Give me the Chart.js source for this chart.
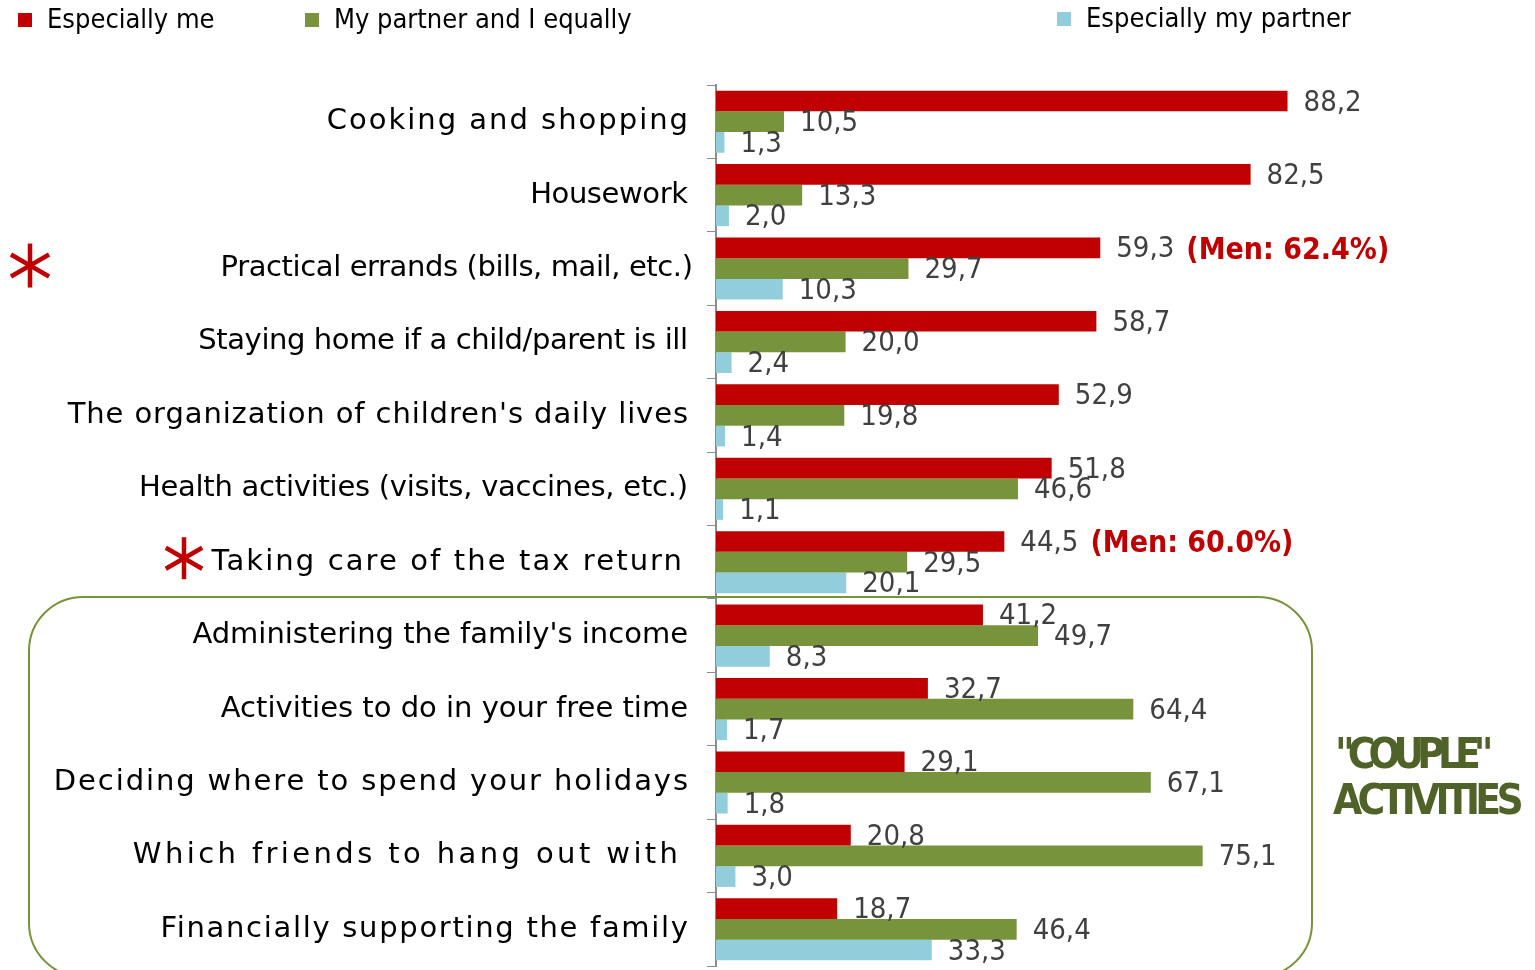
<!DOCTYPE html>
<html>
<head>
    <title>Who does what in the couple</title>
    <meta charset="UTF-8">
    <script src="https://cdn.jsdelivr.net/npm/chart.js@4"></script>
    <style>
        body { margin: 0; background: #ffffff; }
        canvas { display: block; }
    </style>
</head>
<body>
    <canvas id="chart" width="1535" height="970"></canvas>
<script>
    // categories and series
    var categories = [
        'Cooking and shopping',
        'Housework',
        'Practical errands (bills, mail, etc.)',
        'Staying home if a child/parent is ill',
        "The organization of children's daily lives",
        'Health activities (visits, vaccines, etc.)',
        'Taking care of the tax return',
        "Administering the family's income",
        'Activities to do in your free time',
        'Deciding where to spend your holidays',
        'Which friends to hang out with',
        'Financially supporting the family'
    ];
    var especiallyMe = [88.2, 82.5, 59.3, 58.7, 52.9, 51.8, 44.5, 41.2, 32.7, 29.1, 20.8, 18.7];
    var bothEqually = [10.5, 13.3, 29.7, 20.0, 19.8, 46.6, 29.5, 49.7, 64.4, 67.1, 75.1, 46.4];
    var especiallyPartner = [1.3, 2.0, 10.3, 2.4, 1.4, 1.1, 20.1, 8.3, 1.7, 1.8, 3.0, 33.3];
    var seriesNames = ['Especially me', 'My partner and I equally', 'Especially my partner'];

    // notes shown after the red value
    var menNoteIndex = [2, 6];
    var menNoteText = ['(Men: 62.4%)', '(Men: 60.0%)'];
    var groupTitle = ['"COUPLE"', 'ACTIVITIES'];
    var coupleStart = 7; // first category inside the box

    var RED = '#C00000', GREEN = '#77933C', BLUE = '#92CDDC';
    var FONT = '"DejaVu Sans Condensed", "DejaVu Sans", sans-serif';
    var LABEL_FONT = '"DejaVu Sans", sans-serif';
    // the original slide mixes spaced and plain label text
    var labelSpacing = [2, -0.4, -0.4, -0.4, 0.9, -0.25, 2.1, 0, 0, 1.9, 3.4, 1.7];
    var labelShift = [0, 0, 5, 0, 0, 0, -6, 0, 0, 0, -10, 0];

    function fmt(v) { return v.toFixed(1).replace('.', ','); }

    function star(ctx, cx, cy, r) {
        ctx.save();
        ctx.strokeStyle = RED;
        ctx.lineWidth = 4.5;
        for (var k = 0; k < 3; k++) {
            var a = Math.PI / 2 + k * Math.PI / 3;
            ctx.beginPath();
            ctx.moveTo(cx - r * Math.cos(a), cy - r * Math.sin(a));
            ctx.lineTo(cx + r * Math.cos(a), cy + r * Math.sin(a));
            ctx.stroke();
        }
        ctx.restore();
    }

    var extras = {
        id: 'extras',
        afterDraw: function (chart) {
            var ctx = chart.ctx;
            var yScale = chart.scales.y;

            // category labels
            ctx.save();
            ctx.font = '29px ' + LABEL_FONT;
            ctx.textAlign = 'right';
            ctx.textBaseline = 'middle';
            ctx.fillStyle = '#000000';
            chart.data.labels.forEach(function (lab, i) {
                ctx.letterSpacing = labelSpacing[i] + 'px';
                ctx.fillText(lab, yScale.right - 28 + labelShift[i] + labelSpacing[i], yScale.getPixelForValue(i));
            });
            ctx.restore();

            // legend
            var legendX = [18, 305, 1057];
            var legendY = [21, 21, 20];
            ctx.save();
            ctx.font = '27px ' + FONT;
            ctx.textBaseline = 'middle';
            chart.data.datasets.forEach(function (ds, i) {
                ctx.fillStyle = ds.backgroundColor;
                ctx.fillRect(legendX[i], legendY[i] - 8, 14, 14);
                ctx.fillStyle = '#000000';
                ctx.fillText(ds.label, legendX[i] + 29, legendY[i]);
            });
            ctx.restore();

            // value labels
            ctx.save();
            ctx.font = '29px ' + FONT;
            ctx.textBaseline = 'middle';
            ctx.fillStyle = '#404040';
            chart.data.datasets.forEach(function (ds, i) {
                var meta = chart.getDatasetMeta(i);
                meta.data.forEach(function (bar, j) {
                    ctx.fillText(fmt(ds.data[j]), bar.x + 16, bar.y + 2);
                });
            });

            // men notes
            var red = chart.getDatasetMeta(0);
            menNoteIndex.forEach(function (idx, n) {
                var bar = red.data[idx];
                ctx.font = '29px ' + FONT;
                var w = ctx.measureText(fmt(especiallyMe[idx])).width;
                ctx.font = 'bold 30px ' + FONT;
                ctx.fillStyle = RED;
                ctx.fillText(menNoteText[n], bar.x + 16 + w + 12, bar.y + 3);
                ctx.fillStyle = '#404040';
            });
            ctx.restore();

            // stars
            star(ctx, 30, yScale.getPixelForValue(2) - 3, 22);
            star(ctx, 184, yScale.getPixelForValue(6) - 4, 21);

            // couple activities box
            var top = (yScale.getPixelForValue(coupleStart - 1) + yScale.getPixelForValue(coupleStart)) / 2 - 2;
            ctx.save();
            ctx.strokeStyle = GREEN;
            ctx.lineWidth = 2;
            ctx.beginPath();
            ctx.roundRect(29, top, 1283, 380, 54);
            ctx.stroke();

            ctx.fillStyle = '#4F6228';
            ctx.font = 'bold 42px ' + FONT;
            ctx.textBaseline = 'middle';
            ctx.letterSpacing = '-7px';
            ctx.fillText(groupTitle[0], 1335, 757);
            ctx.letterSpacing = '-4.7px';
            ctx.fillText(groupTitle[1], 1333, 803);
            ctx.restore();
        }
    };

    var ctx = document.getElementById('chart').getContext('2d');
    var chart = new Chart(ctx, {
        type: 'bar',
        data: {
            labels: categories,
            datasets: [
                { label: seriesNames[0], data: especiallyMe, backgroundColor: RED },
                { label: seriesNames[1], data: bothEqually, backgroundColor: GREEN },
                { label: seriesNames[2], data: especiallyPartner, backgroundColor: BLUE }
            ]
        },
        options: {
            indexAxis: 'y',
            responsive: false,
            animation: false,
            categoryPercentage: 0.846,
            barPercentage: 1,
            layout: { padding: { top: 85, bottom: 4, left: 0, right: 171 } },
            plugins: {
                legend: { display: false },
                tooltip: { enabled: false }
            },
            scales: {
                x: {
                    display: false,
                    min: 0,
                    max: 100
                },
                y: {
                    afterFit: function (scale) {
                        scale.width = 716;
                        scale.paddingTop = 0;
                        scale.paddingBottom = 0;
                    },
                    grid: {
                        drawOnChartArea: false,
                        drawTicks: true,
                        tickLength: 9,
                        color: '#8c8c8c',
                        offset: true
                    },
                    border: { display: true, color: '#8c8c8c', width: 2 },
                    ticks: { display: false }
                }
            }
        },
        plugins: [extras]
    });
</script>
</body>
</html>
